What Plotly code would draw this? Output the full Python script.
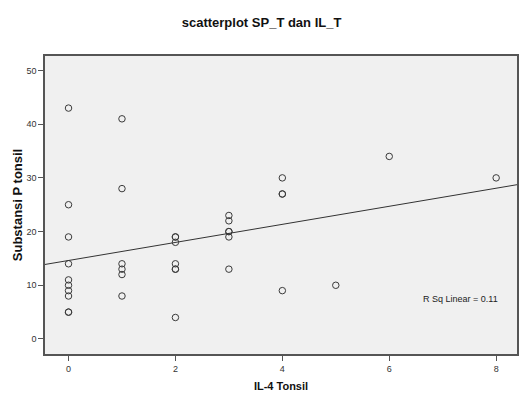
import numpy as np
import plotly.graph_objects as go

il4_tonsil = [0]*10 + [1]*6 + [2]*7 + [3]*6 + [4]*4 + [5, 6, 8]
substansi_p = [43, 25, 19, 14, 11, 10, 9, 8, 5, 5,
               41, 28, 14, 13, 12, 8,
               19, 19, 18, 14, 13, 13, 4,
               23, 22, 20, 20, 19, 13,
               30, 27, 27, 9,
               10, 34, 30]
x_ticks = [0, 2, 4, 6, 8]
y_ticks = [0, 10, 20, 30, 40, 50]
x_range = [-0.44, 8.39]
y_range = [-2.8, 52.7]

x = np.array(il4_tonsil, dtype=float)
y = np.array(substansi_p, dtype=float)
slope, intercept = np.polyfit(x, y, 1)
pred = slope * x + intercept
r2 = 1 - ((y - pred) ** 2).sum() / ((y - y.mean()) ** 2).sum()

fig = go.Figure()
fig.add_trace(go.Scatter(
    x=il4_tonsil, y=substansi_p, mode="markers",
    marker=dict(symbol="circle-open", size=6.5, color="#3a3a3a",
                line=dict(width=1, color="#3a3a3a")),
    showlegend=False, hoverinfo="x+y"))
lx = np.array(x_range)
fig.add_trace(go.Scatter(
    x=lx, y=slope * lx + intercept, mode="lines",
    line=dict(color="#333333", width=1), showlegend=False, hoverinfo="skip"))

axis_common = dict(showgrid=False, zeroline=False, showline=True, linecolor="#555555",
                   linewidth=1.5, mirror=True, ticks="outside", ticklen=5, tickwidth=1,
                   tickcolor="#555555", tickfont=dict(family="Liberation Sans, Arial", size=9, color="#333333"))

fig.update_layout(
    width=519, height=394,
    margin=dict(l=45, r=0, t=56, b=40),
    paper_bgcolor="white", plot_bgcolor="#f0f0f0",
    title=dict(text="<b>scatterplot SP_T dan IL_T</b>", x=0.504, xanchor="center",
               y=0.944, yanchor="middle",
               font=dict(family="Liberation Sans, Arial", size=13, color="#111111")),
    xaxis=dict(range=x_range, tickvals=x_ticks, **axis_common,
               title=dict(text="<b>IL-4 Tonsil</b>", standoff=10,
                          font=dict(family="Liberation Sans, Arial", size=11, color="#111111"))),
    yaxis=dict(range=y_range, tickvals=y_ticks, **axis_common,
               title=dict(text="<b>Substansi P tonsil</b>", standoff=1,
                          font=dict(family="Liberation Sans, Arial", size=13, color="#111111"))),
    annotations=[dict(text=f"R Sq Linear = {r2:.2f}",
                      x=(462 - 45) / (519 - 45), y=(354 - 299) / (354 - 56),
                      xref="paper", yref="paper", xanchor="center", yanchor="middle",
                      showarrow=False, font=dict(family="Liberation Sans, Arial", size=9, color="#222222"))],
)
fig.write_html("out.html", config={"displayModeBar": False},
               post_script="document.body.style.margin='0';document.body.style.padding='0';")
